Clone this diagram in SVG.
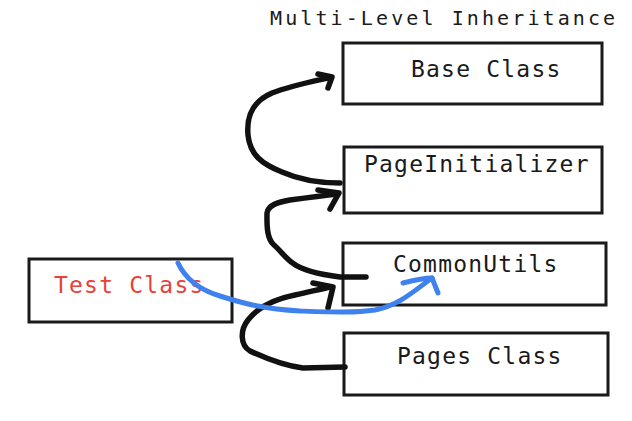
<svg xmlns="http://www.w3.org/2000/svg" width="632" height="421" viewBox="0 0 632 421">
<style>
.box{fill:#fff;stroke:#1a1a1a;stroke-width:3}
.lbl{font-family:"DejaVu Sans Mono","Liberation Mono",monospace;font-size:23px;letter-spacing:1.2px;fill:#1a1a1a}
.red{fill:#ea4038}
.title{font-family:"DejaVu Sans Mono","Liberation Mono",monospace;font-size:20px;letter-spacing:3.1px;fill:#1a1a1a}
.ink{fill:none;stroke:#111;stroke-width:5.5;stroke-linecap:round;stroke-linejoin:round}
.blue{fill:none;stroke:#3f82ee;stroke-width:5;stroke-linecap:round;stroke-linejoin:round}
</style>
<rect width="632" height="421" fill="#fff"/>
<text class="title" x="270" y="25">Multi-Level Inheritance</text>
<g id="base"><rect class="box" x="343" y="43" width="259" height="61"/><text class="lbl" x="411" y="77">Base Class</text></g>
<g id="pageinit"><rect class="box" x="344" y="147" width="258" height="66"/><text class="lbl" x="364" y="172">PageInitializer</text></g>
<g id="commonutils"><rect class="box" x="343" y="243" width="263" height="62"/><text class="lbl" x="393" y="272">CommonUtils</text></g>
<g id="pages"><rect class="box" x="344" y="333" width="264" height="62"/><text class="lbl" x="397" y="364">Pages Class</text></g>
<g id="test"><rect class="box" x="29" y="259" width="203" height="63"/><text class="lbl red" x="54" y="293">Test Class</text></g>
<g id="connectors">
<path class="ink" d="M340,183 C320,183 300,180 282,172 C262,164 250,155 248,135 C246,112 256,100 272,93 C290,86 310,82 328,78"/>
<path class="ink" d="M318,74 L332,77 L328,88"/>
<path class="ink" d="M366,277 L340,277 C325,275 305,272 294,264 C286,259 281,251 274,245 C266,238 267,222 267,213 C268,205 278,202 290,200 C305,198 320,196 338,194"/>
<path class="ink" d="M318,190 L339,193 L330,209"/>
<path class="ink" d="M345,367 L303,368 C285,366 265,358 250,351 C240,345 240,330 248,320 C258,307 275,299 295,295 C310,292 320,289 331,287"/>
<path class="ink" d="M313,283 L333,287 L328,308"/>
<path class="blue" d="M178,263 C185,278 200,290 220,296 C245,304 265,309 300,311 C330,312 355,313 375,310 C400,305 415,290 432,278"/>
<path class="blue" d="M403,283 C415,280 425,278 432,278 L438,293"/>
</g>
</svg>
